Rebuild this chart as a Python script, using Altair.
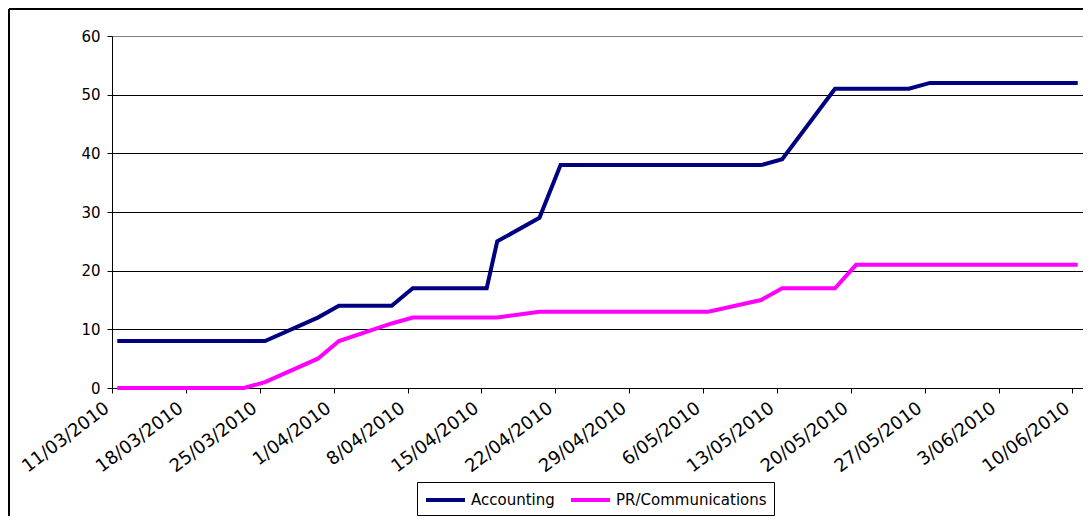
import altair as alt
import pandas as pd
from datetime import date, timedelta

# ---- data ----
dates = ["2010-03-11", "2010-03-23", "2010-03-25", "2010-03-30", "2010-04-01",
         "2010-04-06", "2010-04-08", "2010-04-15", "2010-04-16", "2010-04-20",
         "2010-04-22", "2010-05-06", "2010-05-11", "2010-05-13", "2010-05-18",
         "2010-05-20", "2010-05-25", "2010-05-27", "2010-06-10"]
accounting = [8, 8, 8, 12, 14, 14, 17, 17, 25, 29, 38, 38, 38, 39, 51, 51, 51, 52, 52]
pr_comms = [0, 0, 1, 5, 8, 11, 12, 12, 12, 13, 13, 13, 15, 17, 17, 21, 21, 21, 21]
series_names = ["Accounting", "PR/Communications"]
series_colors = ["#000080", "#FF00FF"]
y_ticks = [0, 10, 20, 30, 40, 50, 60]
first_tick = date(2010, 3, 11)
n_ticks = 14
axis_end = date(2010, 6, 11)

rows = []
for name, vals in zip(series_names, [accounting, pr_comms]):
    for d, v in zip(dates, vals):
        rows.append({"date": d + "T12:00:00Z", "value": v, "series": name})
df = pd.DataFrame(rows)


def dt(d):
    return alt.DateTime(year=d.year, month=d.month, date=d.day, utc=True)


tick_vals = [dt(first_tick + timedelta(days=7 * i)) for i in range(n_ticks)]

W, H = 971, 352
PAD_L, PAD_T, PAD_B = 104, 28, 128

lines = alt.Chart(df).mark_line(strokeWidth=4).encode(
    x=alt.X("date:T", title=None,
            scale=alt.Scale(type="utc", domain=[dt(first_tick), dt(axis_end)]),
            axis=alt.Axis(values=tick_vals,
                          labelExpr="utcFormat(datum.value, '%-d/%m/%Y')",
                          labelAngle=323, labelAlign="right", labelBaseline="middle",
                          labelFontSize=18,
                          labelPadding=13, labelOffset=-5, grid=False, tickSize=5,
                          labelOverlap=False, labelFlush=False)),
    y=alt.Y("value:Q", title=None,
            scale=alt.Scale(domain=[0, 60], nice=False, zero=True),
            axis=alt.Axis(values=y_ticks, grid=True, tickSize=5, labelPadding=7,
                          gridColor={"condition": {"test": "datum.value === 60", "value": "#808080"},
                                     "value": "black"})),
    color=alt.Color("series:N",
                    scale=alt.Scale(domain=series_names, range=series_colors),
                    legend=alt.Legend(orient="none", legendX=305, legendY=446,
                                      direction="horizontal", title=None,
                                      symbolType="M-1,0H3.33", symbolSize=324,
                                      symbolStrokeWidth=4, labelFontSize=15,
                                      labelFont="DejaVu Sans", labelColor="black",
                                      strokeColor="black", fillColor="white",
                                      padding=7, columnPadding=8, labelOffset=25,
                                      cornerRadius=0)),
)

frame_df = pd.DataFrame({"k": [0]})
top_border = alt.Chart(frame_df).mark_rule(color="black", strokeWidth=2).encode(
    x=alt.value(-PAD_L + 1), x2=alt.value(W), y=alt.value(-PAD_T + 1))
left_border = alt.Chart(frame_df).mark_rule(color="black", strokeWidth=2).encode(
    x=alt.value(-PAD_L + 1), y=alt.value(-PAD_T + 1), y2=alt.value(H + PAD_B))

chart = alt.layer(lines, top_border, left_border).properties(
    width=W, height=H,
    padding={"left": PAD_L, "top": PAD_T, "right": 0, "bottom": PAD_B},
    autosize=alt.AutoSizeParams(type="none"),
    background="white",
).configure_view(stroke="#808080", strokeWidth=1).configure_axis(
    domainColor="black", tickColor="black", labelColor="black",
    labelFont="DejaVu Sans", labelFontSize=15, domainWidth=1, gridWidth=1,
)

chart.save("out.html", embed_options={"renderer": "svg", "actions": False})
